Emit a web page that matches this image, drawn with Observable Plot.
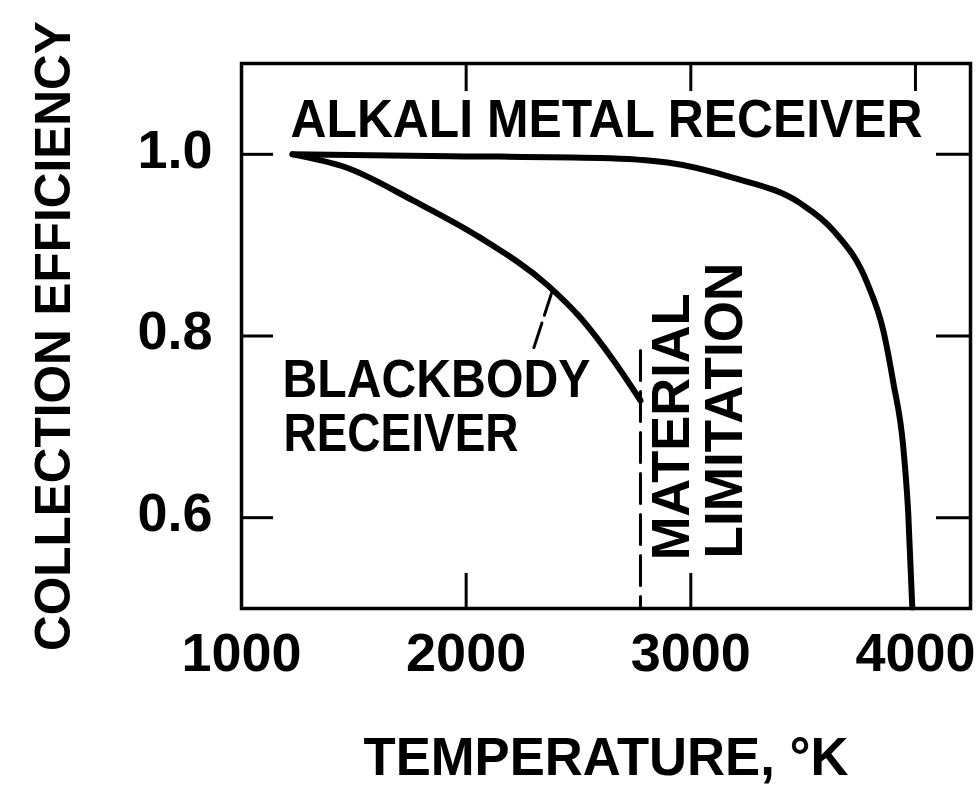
<!DOCTYPE html>
<html><head><meta charset="utf-8">
<script src="https://cdn.jsdelivr.net/npm/d3@7"></script>
<script src="https://cdn.jsdelivr.net/npm/@observablehq/plot@0.6"></script>
<style>body{margin:0;background:#fff} #chart svg{display:block;background:#fff}</style>
</head><body><div id="chart"></div>
<script>
// ---- data ----
const xTickLabels = [1000, 2000, 3000, 4000];
const xInnerTicksBottom = [2000, 3000];
const xInnerTicksTop = [2000, 3000, 4000];
const yTicks = [0.6, 0.8, 1.0];
const xTitle = "TEMPERATURE, °K";
const yTitle = "COLLECTION EFFICIENCY";

const alkaliT   = [1227, 1930, 2598, 2896, 3190, 3488, 3635, 3786, 3857, 3902, 3946, 3968, 3986];
const alkaliEff = [1.000, 0.998, 0.996, 0.991, 0.974, 0.946, 0.916, 0.858, 0.806, 0.748, 0.677, 0.604, 0.501];

const blackbodyT   = [1227, 1472, 1765, 2064, 2362, 2509, 2656, 2776];
const blackbodyEff = [1.000, 0.985, 0.949, 0.908, 0.856, 0.820, 0.773, 0.729];

const limitT   = [2776, 2776];
const limitEff = [0.784, 0.500];

const leaderT   = [2384, 2300];
const leaderEff = [0.850, 0.786];

const labelText   = ["ALKALI METAL RECEIVER", "BLACKBODY", "RECEIVER", "MATERIAL", "LIMITATION"];
const labelT      = [1218, 1182, 1187, 2820, 3056];
const labelEff    = [1.0615, 0.775, 0.716, 0.553, 0.555];
const labelRotate = [0, 0, 0, -90, -90];

// ---- styles ----
const FONT = "'Liberation Sans', Arial, Helvetica, sans-serif";
const textLengths = {
  "ALKALI METAL RECEIVER": 632, "BLACKBODY": 308, "RECEIVER": 235,
  "MATERIAL": 267, "LIMITATION": 296,
  "TEMPERATURE, °K": 485
};

const alkali = alkaliT.map((t, i) => ({t, e: alkaliEff[i]}));
const blackbody = blackbodyT.map((t, i) => ({t, e: blackbodyEff[i]}));
const limit = limitT.map((t, i) => ({t, e: limitEff[i]}));
const leader = leaderT.map((t, i) => ({t, e: leaderEff[i]}));
const labels = labelText.map((s, i) => ({s, t: labelT[i], e: labelEff[i], r: labelRotate[i]}));

const chart = Plot.plot({
  width: 979, height: 786,
  marginLeft: 241, marginRight: 9, marginTop: 63, marginBottom: 178,
  style: {fontFamily: FONT, fontWeight: "bold", color: "black", background: "white"},
  x: {domain: [1000, 4245]},
  y: {domain: [0.5, 1.1]},
  marks: [
    Plot.frame({stroke: "black", strokeWidth: 3.5}),
    // inward ticks
    Plot.axisX(xInnerTicksBottom, {anchor: "bottom", tickSize: -35, strokeWidth: 3, fill: "none", label: null}),
    Plot.axisX(xInnerTicksTop, {anchor: "top", tickSize: -27, strokeWidth: 3, fill: "none", label: null}),
    Plot.axisY(yTicks, {anchor: "left", tickSize: -32, strokeWidth: 3, fill: "none", label: null}),
    Plot.axisY(yTicks, {anchor: "right", tickSize: -35, strokeWidth: 3, fill: "none", label: null}),
    // tick labels
    Plot.axisX(xTickLabels, {anchor: "bottom", tickSize: 0, tickPadding: 24, tickFormat: "d", fontSize: 54, fontWeight: "bold", fill: "black", label: null}),
    Plot.axisY(yTicks, {anchor: "left", tickSize: 0, tickPadding: 29, tickFormat: ".1f", fontSize: 54, fontWeight: "bold", fill: "black", dy: -4, label: null}),
    // curves
    Plot.line(alkali, {x: "t", y: "e", stroke: "black", strokeWidth: 6, curve: "monotone-x", strokeLinecap: "round", strokeLinejoin: "round"}),
    Plot.line(blackbody, {x: "t", y: "e", stroke: "black", strokeWidth: 6, curve: "monotone-x", strokeLinecap: "round", strokeLinejoin: "round"}),
    Plot.line(limit, {x: "t", y: "e", stroke: "black", strokeWidth: 3, strokeDasharray: "30,11"}),
    Plot.line(leader, {x: "t", y: "e", stroke: "black", strokeWidth: 3, strokeDasharray: "26,8"}),
    // annotations
    Plot.text(labels, {x: "t", y: "e", text: "s", rotate: "r", textAnchor: "start", lineAnchor: "top", fontSize: 54, fontWeight: "bold", fill: "black"}),
    // axis titles
    Plot.text([xTitle], {text: d => d, frameAnchor: "bottom", textAnchor: "middle", lineAnchor: "top", dy: 128, fontSize: 54, fontWeight: "bold", fill: "black"}),
    Plot.text([yTitle], {text: d => d, frameAnchor: "left", textAnchor: "middle", rotate: -90, lineAnchor: "top", dx: -207, fontSize: 49.5, fontWeight: "bold", fill: "black"})
  ]
});

chart.querySelectorAll("text").forEach(el => {
  const L = textLengths[el.textContent];
  if (L) { el.setAttribute("textLength", L); el.setAttribute("lengthAdjust", "spacingAndGlyphs"); }
});
document.getElementById("chart").appendChild(chart);
</script>
</body></html>
